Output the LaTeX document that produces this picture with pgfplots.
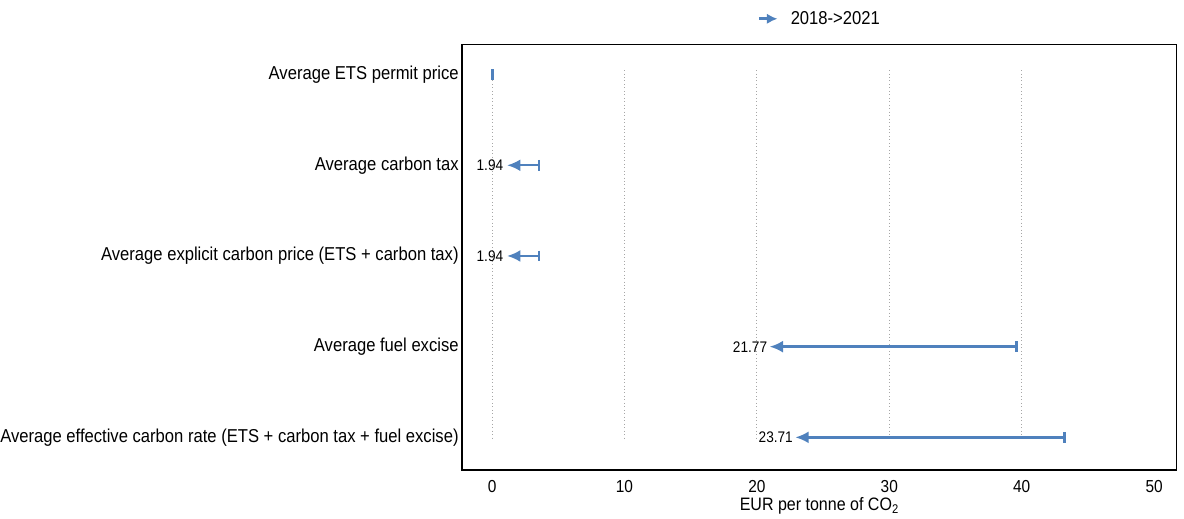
\documentclass[border=0pt]{standalone}
\usepackage{pgfplots}
\pgfplotsset{compat=1.18}
\usepackage{fontspec}
\setmainfont{Liberation Sans}[FakeStretch=0.89]
\usetikzlibrary{arrows.meta}
\definecolor{arrowblue}{RGB}{79,129,189}
\begin{document}
\begin{tikzpicture}[x=1pt,y=1pt]
\path[use as bounding box] (-346.5,-36) rectangle (541.5,352.5);
\begin{axis}[
  at={(0,0)}, anchor=south west,
  scale only axis,
  width=536pt, height=319pt,
  xmin=-2.27, xmax=51.7,
  ymin=0.67, ymax=5.36,
  y dir=reverse,
  axis line style={black, line width=1.1pt},
  xtick={0,10,...,50},
  ytick={1,2,3,4,5},
  yticklabels={Average ETS permit price,
    Average carbon tax,
    Average explicit carbon price (ETS + carbon tax),
    Average fuel excise,
    Average effective carbon rate (ETS + carbon tax + fuel excise)},
  major tick length=0pt,
  yticklabel style={font=\fontsize{14}{16}\selectfont, xshift=1pt},
  xticklabel style={font=\fontsize{13}{15}\selectfont, yshift=-4pt},
  /pgf/number format/assume math mode=true,
  xlabel={EUR per tonne of CO\textsubscript{2}},
  xlabel style={font=\fontsize{13.5}{15}\selectfont, yshift=3pt},
  legend style={at={(0.5,1.03)}, anchor=south, draw=none, fill=none,
    font=\fontsize{14}{16}\selectfont},
  clip=false,
]
% dotted grid
\foreach \g in {0,10,20,30,40} {
  \edef\tmp{\noexpand\draw[gray!70, dotted, line width=0.6pt] (axis cs:\g,0.95) -- (axis cs:\g,5.04);}
  \tmp
}
\addlegendimage{arrowblue, line width=2pt,
  legend image code/.code={\path[draw=none] (-2pt,0pt) -- (22pt,0pt);
    \draw[arrowblue, line width=2pt, arrows={-Latex[length=8pt,width=8pt]}, shorten >=0pt] (0pt,0pt) -- (14pt,0pt);}}
\addlegendentry{2018->2021}
\addplot[arrowblue, line width=1.8pt, {|[width=8pt]}-{Latex[length=10pt,width=9pt]}, shorten >=-8pt, forget plot]
  coordinates {(3.65,2) (1.94,2)} node[pos=1, anchor=east, xshift=-9pt, black, font=\fontsize{11.5}{13}\selectfont, inner sep=1pt] {1.94};
\addplot[arrowblue, line width=1.8pt, {|[width=8pt]}-{Latex[length=10pt,width=9pt]}, shorten >=-8pt, forget plot]
  coordinates {(3.65,3) (1.94,3)} node[pos=1, anchor=east, xshift=-9pt, black, font=\fontsize{11.5}{13}\selectfont, inner sep=1pt] {1.94};
\addplot[arrowblue, line width=1.8pt, {|[width=8pt]}-{Latex[length=10pt,width=9pt]}, shorten >=-8pt, forget plot]
  coordinates {(39.7,4) (21.77,4)} node[pos=1, anchor=east, xshift=-8pt, black, font=\fontsize{11.5}{13}\selectfont, inner sep=1pt] {21.77};
\addplot[arrowblue, line width=1.8pt, {|[width=8pt]}-{Latex[length=10pt,width=9pt]}, shorten >=-8pt, forget plot]
  coordinates {(43.33,5) (23.71,5)} node[pos=1, anchor=east, xshift=-8pt, black, font=\fontsize{11.5}{13}\selectfont, inner sep=1pt] {23.71};
% ETS permit price: 0 -> 0
\addplot[arrowblue, only marks, mark=|, mark size=4pt, mark options={line width=2.2pt}, forget plot]
  coordinates {(0,1)};
\end{axis}
\end{tikzpicture}
\end{document}
